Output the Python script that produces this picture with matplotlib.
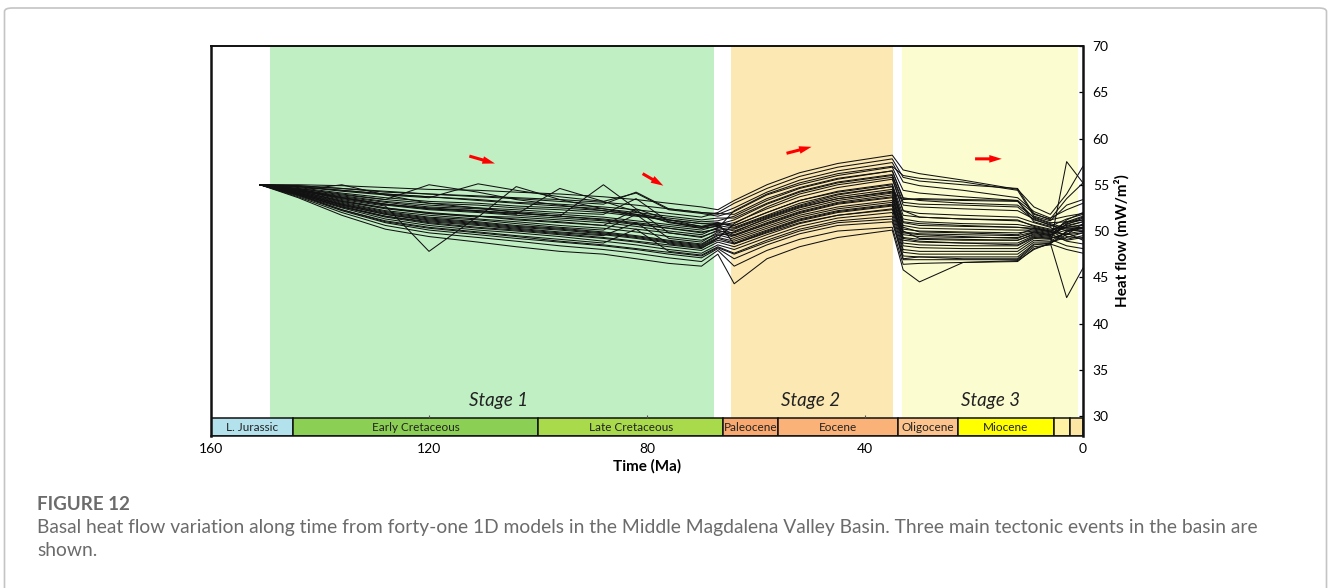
import matplotlib
matplotlib.use("Agg")
import matplotlib.pyplot as plt
from matplotlib.patches import Rectangle, FancyBboxPatch

# ─── time grid (Ma) shared by all 1D models ───────────────────────────────────
AGES = [151, 144, 136, 128, 120, 111, 104, 96, 88, 82, 76, 70, 67,
        64, 58, 52, 45, 35, 33, 30, 22, 12, 9, 6, 3, 0]

# ─── basal heat flow per well model (mW/m2) ───────────────────────────────────
HF_01 = [55.0, 55.0, 54.9, 54.7, 54.5, 54.4, 54.2, 54.0, 53.7, 53.4, 53.0, 52.6, 52.3,
         53.3, 55.0, 56.3, 57.3, 58.2, 56.6, 56.2, 55.5, 54.5, 52.6, 51.8, 54.0, 57.0]
HF_02 = [55.0, 54.9, 54.6, 54.2, 54.0, 53.8, 53.6, 53.4, 53.1, 52.8, 52.4, 52.0, 51.8,
         52.5, 54.2, 55.5, 56.5, 57.4, 55.3, 54.9, 54.4, 53.6, 52.1, 51.4, 52.3, 53.0]
HF_03 = [55.0, 54.8, 54.3, 53.9, 53.6, 55.1, 54.4, 53.7, 53.2, 54.1, 52.3, 51.9, 51.6,
         52.1, 53.9, 55.0, 56.0, 56.9, 54.4, 54.1, 53.7, 53.3, 51.9, 51.2, 51.6, 51.9]
HF_04 = [55.0, 54.7, 54.1, 53.6, 53.2, 53.0, 52.7, 52.5, 52.2, 51.8, 51.4, 51.0, 51.1,
         51.6, 53.3, 54.6, 55.6, 56.5, 53.6, 53.3, 53.0, 52.8, 51.5, 50.9, 51.0, 51.2]
HF_05 = [55.0, 54.6, 54.0, 53.4, 55.0, 54.2, 53.4, 52.8, 52.2, 51.7, 51.2, 50.8, 50.7,
         51.2, 52.9, 54.2, 55.2, 56.0, 52.8, 52.6, 52.4, 52.2, 51.3, 50.6, 50.2, 50.4]
HF_06 = [55.0, 54.5, 53.8, 53.2, 52.8, 52.5, 52.3, 52.0, 51.8, 53.5, 51.0, 50.5, 50.6,
         50.9, 52.4, 53.7, 54.7, 55.6, 52.2, 51.9, 51.7, 51.5, 50.9, 50.4, 49.4, 49.2]
HF_07 = [55.0, 54.5, 53.7, 53.1, 52.6, 52.4, 52.1, 51.8, 51.5, 51.1, 50.7, 50.3, 50.9,
         50.6, 52.0, 53.3, 54.3, 55.1, 51.7, 51.5, 51.3, 51.1, 50.6, 50.2, 50.6, 51.0]
HF_08 = [55.0, 54.4, 53.6, 52.9, 52.4, 52.2, 51.9, 51.6, 55.0, 52.4, 51.2, 50.5, 50.9,
         50.4, 51.7, 53.0, 54.0, 54.8, 51.3, 51.0, 50.8, 50.7, 50.4, 50.0, 50.9, 51.5]
HF_09 = [55.0, 54.4, 53.5, 52.8, 52.3, 52.0, 51.7, 51.4, 51.1, 50.7, 50.3, 49.9, 50.2,
         50.2, 51.5, 52.7, 53.7, 54.5, 50.9, 50.6, 50.5, 50.4, 50.2, 49.9, 49.6, 49.8]
HF_10 = [55.0, 54.4, 53.4, 52.7, 47.8, 51.6, 51.5, 51.2, 50.9, 50.5, 50.0, 49.6, 50.4,
         50.0, 51.3, 52.5, 53.5, 54.3, 50.6, 50.3, 50.2, 50.1, 50.1, 49.8, 50.4, 50.6]
HF_11 = [55.0, 54.3, 53.3, 52.5, 52.0, 51.6, 51.3, 51.0, 50.6, 52.3, 49.8, 49.4, 50.0,
         49.8, 51.1, 52.3, 53.3, 54.1, 50.2, 50.0, 49.9, 49.8, 50.0, 49.7, 48.9, 48.6]
HF_12 = [55.0, 54.3, 53.2, 52.4, 51.9, 51.5, 54.8, 53.4, 52.4, 51.8, 51.0, 50.3, 50.5,
         49.6, 50.9, 52.1, 53.1, 53.9, 49.9, 49.7, 49.6, 49.5, 49.9, 49.6, 50.1, 50.3]
HF_13 = [55.0, 54.2, 53.1, 52.2, 51.7, 51.3, 51.0, 50.6, 50.3, 49.9, 49.4, 49.0, 49.7,
         49.5, 50.7, 51.9, 52.9, 53.6, 49.6, 49.4, 49.3, 49.3, 49.8, 49.5, 50.5, 51.0]
HF_14 = [55.0, 54.2, 53.0, 52.1, 51.5, 51.2, 50.8, 50.4, 50.1, 51.8, 49.2, 48.8, 49.9,
         49.3, 50.5, 51.7, 52.6, 53.3, 49.3, 49.1, 49.0, 49.0, 49.6, 49.4, 49.0, 49.3]
HF_15 = [55.0, 54.1, 52.9, 52.0, 51.4, 51.0, 50.6, 50.3, 49.9, 49.5, 49.0, 48.6, 49.6,
         49.1, 50.3, 51.5, 52.4, 53.1, 49.0, 48.8, 48.7, 48.7, 49.5, 49.3, 50.8, 51.2]
HF_16 = [55.0, 54.1, 52.8, 51.8, 51.2, 50.8, 50.4, 50.1, 49.7, 49.3, 48.8, 48.4, 49.3,
         48.9, 50.1, 51.3, 52.2, 52.9, 48.7, 48.5, 48.4, 48.4, 49.3, 49.2, 49.7, 50.0]
HF_17 = [55.0, 54.0, 52.7, 51.6, 51.0, 50.6, 50.2, 49.8, 49.5, 50.9, 48.6, 48.2, 49.0,
         48.6, 49.9, 51.1, 52.0, 52.7, 48.4, 48.2, 48.1, 48.1, 49.2, 49.1, 48.4, 48.1]
HF_18 = [55.0, 54.0, 52.6, 51.5, 50.8, 50.3, 50.0, 49.6, 49.2, 48.8, 48.3, 47.9, 48.8,
         48.3, 49.6, 50.8, 51.7, 52.4, 48.0, 47.8, 47.8, 47.8, 49.0, 48.9, 49.9, 50.3]
HF_19 = [55.0, 53.9, 52.5, 51.3, 50.6, 50.1, 49.8, 49.4, 48.9, 48.5, 48.0, 47.6, 48.5,
         48.0, 49.3, 50.5, 51.4, 52.0, 47.7, 47.5, 47.5, 47.5, 48.8, 48.8, 49.3, 49.8]
HF_20 = [55.0, 53.9, 52.3, 51.1, 50.4, 49.9, 49.5, 49.1, 48.7, 50.2, 47.8, 47.4, 48.3,
         47.6, 49.0, 50.2, 51.1, 51.6, 47.3, 47.2, 47.2, 47.2, 48.6, 48.6, 50.0, 50.4]
HF_21 = [55.0, 53.8, 52.2, 50.9, 50.1, 49.6, 49.2, 48.8, 48.4, 48.0, 47.5, 47.1, 48.1,
         47.0, 48.5, 49.7, 50.6, 51.0, 46.9, 46.9, 46.9, 46.9, 48.3, 48.5, 57.5, 55.2]
HF_22 = [55.0, 53.7, 52.0, 50.6, 49.8, 49.3, 48.9, 48.4, 48.0, 47.6, 47.1, 46.7, 47.9,
         46.2, 47.9, 49.1, 50.0, 50.4, 46.4, 46.5, 46.6, 46.7, 48.1, 48.6, 48.0, 47.6]
HF_23 = [55.0, 53.6, 51.7, 50.2, 49.4, 48.8, 48.3, 47.8, 47.5, 47.0, 46.5, 46.2, 47.5,
         44.3, 47.0, 48.3, 49.3, 50.1, 45.8, 44.5, 46.6, 46.8, 48.0, 48.7, 42.8, 46.0]
HF_24 = [55.0, 54.8, 54.4, 54.0, 53.7, 53.4, 53.1, 52.9, 52.6, 52.3, 51.9, 51.5, 52.0,
         53.0, 54.6, 55.9, 56.9, 57.8, 55.8, 55.4, 55.0, 54.6, 51.8, 51.3, 53.5, 55.2]
HF_25 = [55.0, 54.6, 53.9, 53.4, 53.0, 52.8, 52.5, 52.3, 52.0, 51.6, 51.2, 50.8, 50.9,
         48.6, 49.8, 50.9, 51.7, 52.3, 50.0, 49.2, 49.1, 49.0, 49.7, 49.5, 51.2, 52.0]
HF_26 = [55.0, 54.0, 52.6, 51.6, 50.9, 50.4, 50.1, 49.7, 49.3, 48.9, 48.5, 48.1, 49.2,
         50.8, 52.6, 54.0, 55.0, 55.8, 52.2, 51.5, 51.3, 51.2, 50.5, 50.1, 50.4, 50.7]
HF_27 = [55.0, 54.1, 52.9, 51.9, 51.3, 50.9, 50.5, 50.2, 49.8, 49.4, 48.9, 48.5, 49.5,
         49.9, 51.4, 52.6, 53.5, 54.2, 53.4, 53.5, 53.4, 53.3, 51.0, 50.5, 51.3, 51.8]
HF_28 = [55.0, 54.4, 55.0, 53.9, 53.0, 52.5, 52.0, 51.6, 51.2, 50.8, 50.3, 49.8, 50.3,
         52.2, 54.0, 55.2, 56.2, 57.0, 56.0, 55.7, 55.3, 54.4, 51.6, 51.1, 52.8, 53.4]
HF_29 = [55.0, 54.5, 53.6, 52.9, 52.5, 52.2, 51.9, 51.6, 51.3, 50.9, 50.5, 50.1, 50.6,
         50.3, 51.6, 52.8, 53.9, 54.8, 50.4, 49.9, 49.8, 49.6, 50.3, 50.0, 49.1, 49.5]
HF_30 = [55.0, 54.8, 54.4, 54.0, 53.7, 53.3, 53.0, 52.7, 52.4, 52.0, 51.6, 51.2, 51.4,
         51.4, 53.0, 54.3, 55.3, 56.1, 53.1, 52.9, 52.8, 52.6, 51.2, 50.7, 50.0, 50.1]
HF_31 = [55.0, 54.3, 53.2, 52.5, 51.9, 51.6, 51.2, 50.9, 50.6, 50.2, 49.8, 49.3, 50.1,
         49.5, 50.8, 52.0, 53.0, 53.7, 49.8, 49.6, 49.4, 49.2, 49.9, 49.6, 50.7, 51.4]
HF_32 = [55.0, 54.1, 52.8, 51.8, 51.1, 50.7, 50.3, 49.9, 49.6, 49.2, 48.7, 48.3, 49.2,
         48.7, 50.0, 51.2, 52.1, 52.8, 49.2, 48.9, 48.7, 48.5, 49.4, 49.2, 49.8, 49.0]
HF_33 = [55.0, 53.9, 52.3, 51.0, 50.3, 49.8, 49.4, 48.9, 48.5, 48.1, 47.7, 47.3, 48.2,
         47.5, 48.8, 50.0, 50.9, 51.3, 47.0, 47.2, 47.0, 47.0, 48.5, 48.7, 49.6, 50.8]
HF_34 = [55.0, 54.4, 53.6, 52.9, 52.4, 52.1, 51.8, 54.6, 53.2, 52.1, 50.9, 50.4, 50.8,
         50.6, 52.0, 53.3, 54.2, 55.0, 51.0, 50.8, 50.6, 50.4, 50.3, 49.9, 51.0, 51.6]
HF_35 = [55.0, 54.9, 54.6, 54.3, 54.0, 53.7, 53.5, 53.2, 52.9, 54.2, 52.4, 52.0, 51.9,
         51.8, 53.5, 54.7, 55.7, 56.5, 53.5, 53.4, 53.3, 53.2, 51.4, 50.8, 50.3, 50.4]

WELLS = [HF_01, HF_02, HF_03, HF_04, HF_05, HF_06, HF_07, HF_08, HF_09, HF_10,
         HF_11, HF_12, HF_13, HF_14, HF_15, HF_16, HF_17, HF_18, HF_19, HF_20,
         HF_21, HF_22, HF_23, HF_24, HF_25, HF_26, HF_27, HF_28, HF_29, HF_30,
         HF_31, HF_32, HF_33, HF_34, HF_35]

# ─── tectonic stages (start Ma, end Ma) ───────────────────────────────────────
STAGE_NAMES  = ["Stage 1", "Stage 2", "Stage 3"]
STAGE_START  = [149.2, 64.6, 33.2]
STAGE_END    = [67.7, 34.9, 0.9]
STAGE_COLORS = ["#c1efc4", "#fce8b3", "#fbfdd1"]

# ─── geological time scale ────────────────────────────────────────────────────
EPOCHS       = ["L. Jurassic", "Early Cretaceous", "Late Cretaceous", "Paleocene",
                "Eocene", "Oligocene", "Miocene", "", ""]
EPOCH_START  = [160, 145, 100, 66, 56, 34, 23, 5.3, 2.4]
EPOCH_END    = [145, 100, 66, 56, 34, 23, 5.3, 2.4, 0]
EPOCH_COLORS = ["#b3e1ec", "#8ccf55", "#a8da4b", "#f9a970", "#fbb278",
                "#fcc38c", "#ffff00", "#fff3a3", "#fde6a4"]

# ─── heat-flow trend arrows (from Ma, from HF, to Ma, to HF) ─────────────────
ARROWS = [(112.6, 58.1, 107.9, 57.3),
          (80.8, 56.2, 77.0, 54.9),
          (54.4, 58.4, 49.8, 59.1),
          (19.8, 57.8, 14.9, 57.8)]

XTICKS = [160, 120, 80, 40, 0]
YTICKS = [30, 35, 40, 45, 50, 55, 60, 65, 70]

Y_MIN, Y_MAX = 27.84, 70
BAR_TOP = 29.78

FONT = "Lato"

fig = plt.figure(figsize=(13.28, 5.88), dpi=100)
fig.patch.set_facecolor("white")

# rounded frame around figure + caption
frame = FancyBboxPatch((4.5 / 1328, -0.05), 1322 / 1328, 1.05 - 8 / 588,
                       boxstyle="round,pad=0,rounding_size=0.006",
                       transform=fig.transFigure, facecolor="none",
                       edgecolor="#c4c4c4", linewidth=1.2)
fig.patches.append(frame)

ax = fig.add_axes([211 / 1328, 1 - 436 / 588, 872 / 1328, 390 / 588])
ax.set_xlim(160, 0)
ax.set_ylim(Y_MIN, Y_MAX)

# stage background bands
for name, s, e, c in zip(STAGE_NAMES, STAGE_START, STAGE_END, STAGE_COLORS):
    ax.add_patch(Rectangle((e, BAR_TOP), s - e, Y_MAX - BAR_TOP,
                           facecolor=c, edgecolor="none", zorder=0))

stage_label_x = [107.3, 50.0, 17.0]
for name, x in zip(STAGE_NAMES, stage_label_x):
    ax.text(x, 31.7, name, ha="center", va="center", fontsize=13.5,
            style="italic", family=FONT, color="#222222", zorder=3)

# heat flow curves
for hf in WELLS:
    ax.plot(AGES, hf, color="#111111", lw=0.75, zorder=2)

# trend arrows
for x0, y0, x1, y1 in ARROWS:
    ax.annotate("", xy=(x1, y1), xytext=(x0, y0),
                arrowprops=dict(arrowstyle="simple,head_length=0.9,head_width=0.55,tail_width=0.22",
                                color="#ff0000", lw=0, shrinkA=0, shrinkB=0),
                zorder=4)

# time scale bar
for name, s, e, c in zip(EPOCHS, EPOCH_START, EPOCH_END, EPOCH_COLORS):
    ax.add_patch(Rectangle((e, Y_MIN), s - e, BAR_TOP - Y_MIN,
                           facecolor=c, edgecolor="#111111", lw=1.1, zorder=3))
    if name:
        ax.text((s + e) / 2, (Y_MIN + BAR_TOP) / 2, name, ha="center", va="center",
                fontsize=8.5, family=FONT, color="#222222", zorder=4)

# small tick marks above the time bar
ax.vlines(XTICKS[1:-1], BAR_TOP, BAR_TOP + 0.3, color="#555555", lw=0.8, zorder=3)

ax.set_xticks(XTICKS)
ax.set_xticklabels([str(t) for t in XTICKS], family=FONT, fontsize=10)
ax.tick_params(axis="x", length=0, pad=5)

ax.yaxis.tick_right()
ax.yaxis.set_label_position("right")
ax.set_yticks(YTICKS)
ax.set_yticklabels([str(t) for t in YTICKS], family=FONT, fontsize=10)
ax.tick_params(axis="y", direction="in", length=3, width=0.9, pad=7)

ax.set_xlabel("Time (Ma)", family=FONT, fontsize=11, fontweight="bold", labelpad=3)
ax.set_ylabel("Heat flow (mW/m²)", family=FONT, fontsize=11, fontweight="bold", labelpad=4)

for side in ["left", "right"]:
    ax.spines[side].set_linewidth(1.8)
ax.spines["top"].set_linewidth(1.4)
ax.spines["bottom"].set_linewidth(1.1)
for sp in ax.spines.values():
    sp.set_color("#111111")
    sp.set_zorder(5)

# caption
fig.text(37 / 1328, 1 - 504 / 588, "FIGURE 12", family=FONT, fontsize=13.5,
         fontweight="bold", color="#6b6b6b", va="center")
fig.text(37 / 1328, 1 - 528 / 588,
         "Basal heat flow variation along time from forty-one 1D models in the Middle "
         "Magdalena Valley Basin. Three main tectonic events in the basin are",
         family=FONT, fontsize=13.9, color="#6b6b6b", va="center")
fig.text(37 / 1328, 1 - 550 / 588, "shown.", family=FONT, fontsize=13.9,
         color="#6b6b6b", va="center")

fig.savefig("out.png", dpi=100)
